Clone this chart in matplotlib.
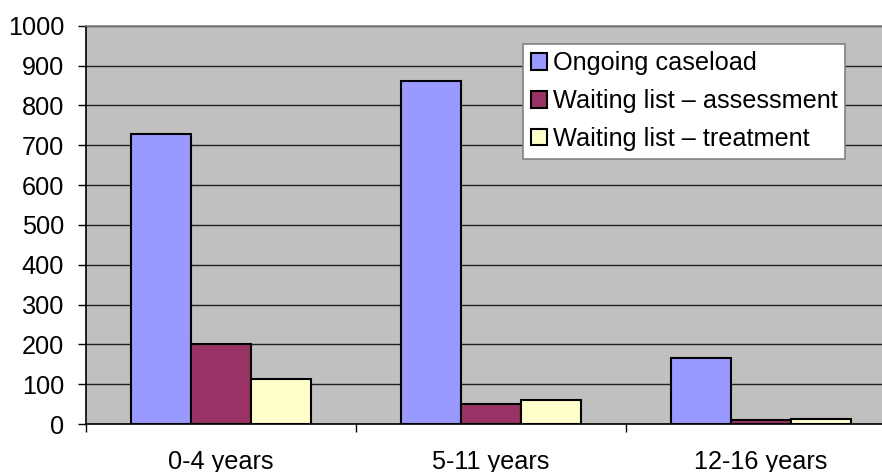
import matplotlib
matplotlib.use("Agg")
import matplotlib.pyplot as plt
import numpy as np

categories = ["0-4 years", "5-11 years", "12-16 years"]
series_names = ["Ongoing caseload", "Waiting list \u2013 assessment", "Waiting list \u2013 treatment"]
ongoing = [729, 862, 165]
assessment = [201, 49, 10]
treatment = [113, 60, 13]
colors = ["#9999FF", "#993366", "#FFFFCC"]
yticks = [0, 100, 200, 300, 400, 500, 600, 700, 800, 900, 1000]

plt.rcParams['font.family'] = ['Liberation Sans', 'DejaVu Sans']
FS = 18.2

fig = plt.figure(figsize=(8.82, 4.72), dpi=100)
ax = fig.add_axes([85.7/882, 48/472, 809.8/882, 398.3/472])
ax.set_facecolor("#C0C0C0")

x = np.arange(len(categories))
w = 2/9
for i, (vals, name, c) in enumerate(zip([ongoing, assessment, treatment], series_names, colors)):
    ax.bar(x + (i - 1) * w, vals, width=w, color=c, edgecolor="black", linewidth=1.5,
           label=name, zorder=3)

ax.set_xlim(-0.5, 2.5)
ax.set_ylim(0, 1000)
ax.set_yticks(yticks)
ax.set_yticklabels([str(t) for t in yticks], fontsize=FS)
ax.yaxis.grid(True, color="#202020", linewidth=1.0, zorder=1)
ax.set_axisbelow(True)

ax.set_xticks(x)
ax.set_xticklabels(categories, fontsize=FS)
ax.set_xticks([-0.5, 0.5, 1.5, 2.5], minor=True)
ax.tick_params(axis='x', which='major', length=0, pad=19)
ax.tick_params(axis='x', which='minor', length=6, width=1, color='black', direction='out')
ax.tick_params(axis='y', which='major', length=6, width=1, color='black', direction='out', pad=9.5)

ax.spines['left'].set_color('black')
ax.spines['bottom'].set_color('black')
ax.spines['top'].set_color('#808080')
ax.spines['right'].set_color('#808080')
for s in ax.spines.values():
    s.set_linewidth(1.2)

leg = ax.legend(loc='upper left', bbox_to_anchor=(0.540, 0.9548), borderaxespad=0,
                fontsize=FS, frameon=True, fancybox=False, framealpha=1,
                edgecolor='#808080', handlelength=0.63, handleheight=0.63,
                handletextpad=0.25, borderpad=0.3, labelspacing=0.55)
leg.get_frame().set_linewidth(1.2)

fig.savefig("out.png", dpi=100)
